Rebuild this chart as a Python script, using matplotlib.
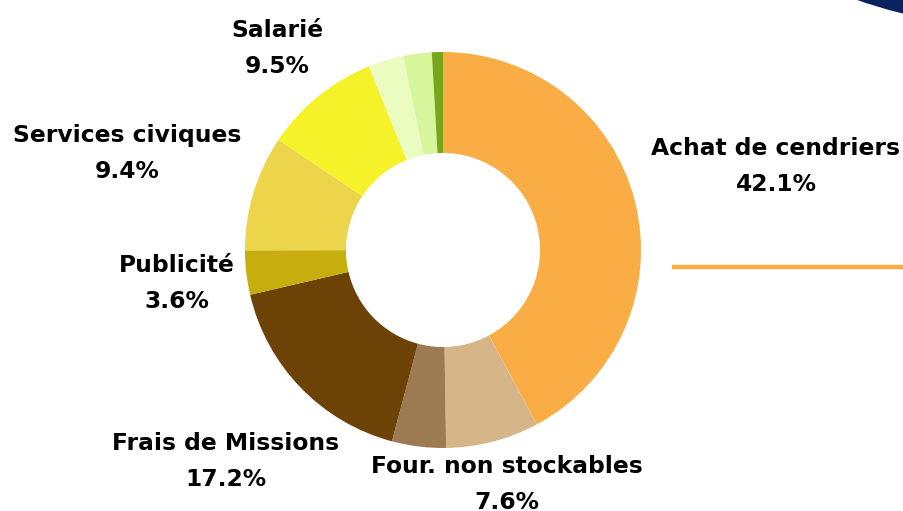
import matplotlib.pyplot as plt
import matplotlib.patches as patches

# Data (clockwise from 12 o'clock)
categories = ['Achat de cendriers', 'Four. non stockables', 'Autres fournitures',
              'Frais de Missions', 'Publicité', 'Services civiques', 'Salarié',
              'Divers 1', 'Divers 2', 'Divers 3']
values = [42.1, 7.6, 4.4, 17.2, 3.6, 9.4, 9.5, 2.9, 2.3, 0.9]
colors = ['#FBAD45', '#D6B589', '#9C7B52', '#6D4206', '#C5AE0E',
          '#ECD54A', '#F5F22A', '#EAFCC0', '#D7F59A', '#76A71A']

# labels shown on the chart (category index -> label position in px)
label_idx = [0, 1, 3, 4, 5, 6]
label_pos = {0: (776, 148), 1: (507, 467), 3: (226, 444),
             4: (177, 265), 5: (127, 135), 6: (277, 30)}

W, H = 904, 511
fig = plt.figure(figsize=(W / 100, H / 100), dpi=100, facecolor='white')
ax = fig.add_axes([0, 0, 1, 1])

cx, cy, r = 443, H - 250, 198
ax.pie(values, colors=colors, startangle=90, counterclock=False,
       center=(cx, cy), radius=r,
       wedgeprops=dict(width=r * 0.51, edgecolor='none'))

ax.set_xlim(0, W)
ax.set_ylim(0, H)
ax.set_aspect('equal')
ax.axis('off')

for i in label_idx:
    x, y = label_pos[i]
    ax.text(x, H - y, categories[i], ha='center', va='center',
            fontsize=16.8, fontweight='heavy', color='black')
    ax.text(x, H - y - 36, f'{values[i]:.1f}%', ha='center', va='center',
            fontsize=16.8, fontweight='heavy', color='black')

# decorations
ax.plot([672, 904], [H - 267, H - 267], color='#FBAD45', lw=3.2,
        solid_capstyle='butt')
ax.add_patch(patches.Circle((1022, H + 472), 500, color='#0B2260', lw=0))

fig.savefig('out.png', dpi=100, facecolor='white')
